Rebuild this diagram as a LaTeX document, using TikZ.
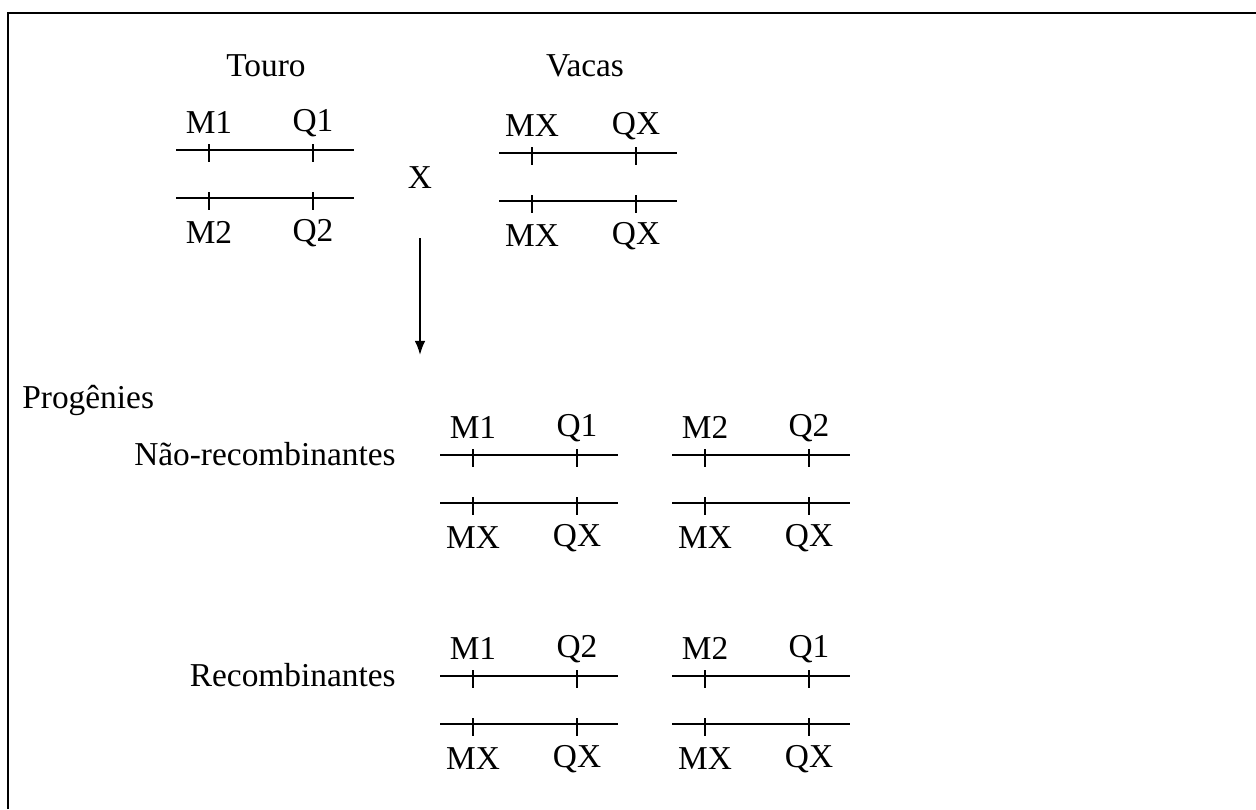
\documentclass[tikz,border=0pt]{standalone}
\usepackage{fontspec}
\setmainfont{Liberation Serif}
\usetikzlibrary{positioning, arrows.meta}

\begin{document}
\begin{tikzpicture}[x=0.02cm,y=-0.02cm,
   every node/.style={font=\fontsize{19}{23}\selectfont,inner sep=0pt},
   chrom/.style={line width=0.8pt},
   locus/.style={line width=0.9pt},
   lbl/.style={anchor=base}]
   \useasboundingbox (0,0) rectangle (1256,809);
   % frame (only top and left edges are drawn)
   \draw[line width=1.2pt] (8,809) -- (8,13) -- (1256,13);

   % parents
   \node[lbl] (touro) at (266,76) {Touro};
   \node[lbl] (vacas) at (585,76) {Vacas};
   \node (cruz) at (420,178) {X};

   % pairs of homologues: name/M locus/top line/labels
   \foreach \n/\x/\y/\ma/\qa/\mb/\qb in {
      touro/209/150/M1/Q1/M2/Q2,
      vacas/532/153/MX/QX/MX/QX,
      nra/473/455/M1/Q1/MX/QX,
      nrb/705/455/M2/Q2/MX/QX,
      ra/473/676/M1/Q2/MX/QX,
      rb/705/676/M2/Q1/MX/QX}{
      \coordinate (\n-a) at (\x-33,\y);
      \coordinate (\n-b) at (\x+145,\y);
      \coordinate (\n-c) at (\x-33,\y+48);
      \coordinate (\n-d) at (\x+145,\y+48);
      \draw[chrom] (\n-a) -- (\n-b);
      \draw[chrom] (\n-c) -- (\n-d);
      \foreach \dx in {0,104}{
         \draw[locus] (\x+\dx,\y-6) -- (\x+\dx,\y+12);
         \draw[locus] (\x+\dx,\y+42) -- (\x+\dx,\y+60);
      }
      \node[lbl] (\n-m1) at (\x,\y-17) {\ma};
      \node[lbl] (\n-q1) at (\x+104,\y-19) {\qa};
      \node[lbl] (\n-m2) at (\x,\y+93) {\mb};
      \node[lbl] (\n-q2) at (\x+104,\y+91) {\qb};
   }

   \coordinate (seta-ini) at (420,238);
   \coordinate (seta-fim) at (420,355);
   \draw[-{Latex[length=8pt,width=6pt]},line width=1pt] (seta-ini) -- (seta-fim);

   % offspring
   \node[anchor=base west] (prog) at (22,408) {Progênies};
   \node[anchor=base east] (nrec) at (396,465) {Não-recombinantes};
   \node[anchor=base east] (rec) at (396,686) {Recombinantes};
\end{tikzpicture}
\end{document}
